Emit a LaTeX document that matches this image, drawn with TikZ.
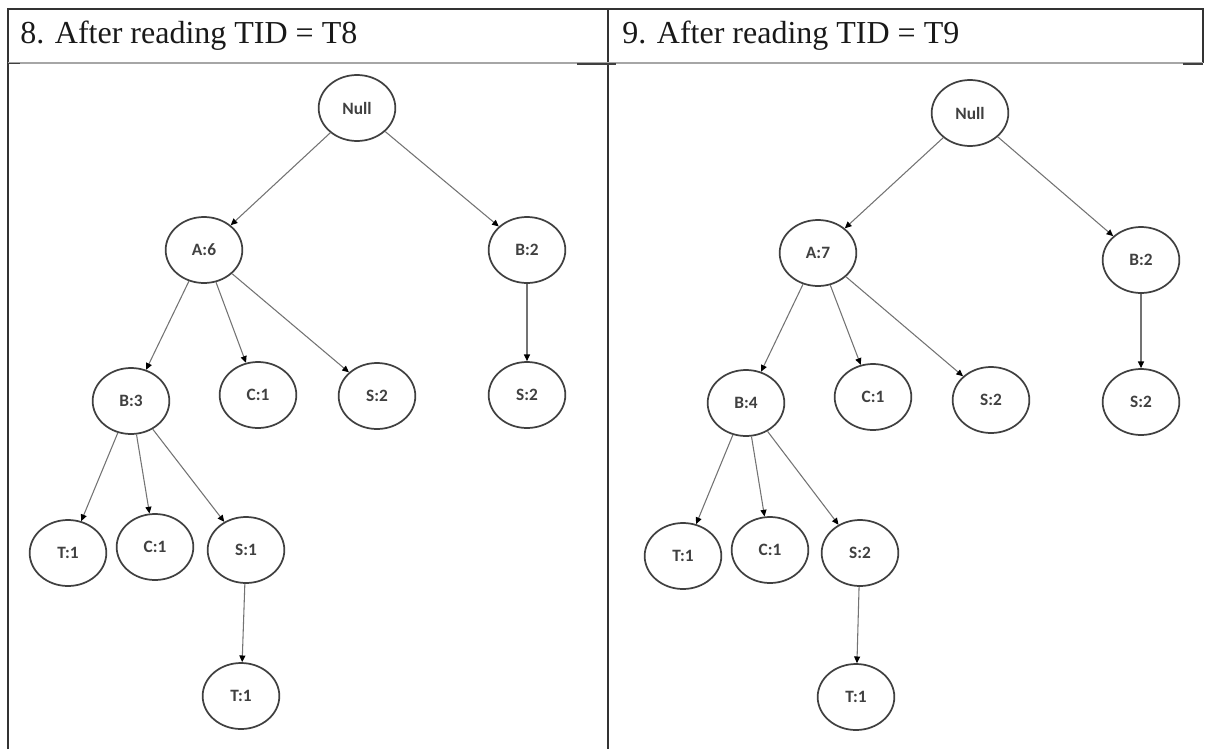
\documentclass[tikz,border=0pt]{standalone}
\usepackage{fontspec}
\setmainfont{Liberation Serif}
\newfontfamily\labelfont{Carlito}
\usetikzlibrary{shapes.geometric,arrows.meta}

\tikzset{
  px/.style={x=0.75pt,y=-0.75pt},
  rule/.style={draw=black!80,line width=1.1pt},
  thinrule/.style={draw=black!35,line width=0.8pt},
  stub/.style={draw=black!75,line width=1pt},
  heading/.style={anchor=base west,inner sep=0pt,font=\fontsize{24}{28}\selectfont,text=black!90},
  fpnode/.style={ellipse,draw=black!75,line width=1.3pt,minimum width=57.5pt,minimum height=49.5pt,
    inner sep=0pt,font=\labelfont\bfseries\fontsize{13}{15}\selectfont,text=black!75},
  link/.style={draw=black!55,line width=0.8pt,-{Triangle[length=5pt,width=4.5pt,color=black]}}
}

\begin{document}
\begin{tikzpicture}[px]
\useasboundingbox (0,0) rectangle (1205,749);

% table frame
\draw[rule] (8,749) -- (8,9) -- (1203,9) -- (1203,63);
\draw[rule] (608,9) -- (608,749);
% header separators (double rule, the upper one faint)
\draw[thinrule] (8,63) -- (1203,63);
\draw[stub] (8,63.5) -- (20,63.5);
\draw[stub] (577,64) -- (616,64);
\draw[stub] (1183,64) -- (1203,64);

% headings
\node[heading] (h8) at (20,44) {8. After reading TID = T8};
\node[heading] (h9) at (622,44) {9. After reading TID = T9};

% tree after T8
\node[fpnode] (n8)   at (357,108) {Null};
\node[fpnode] (a8)   at (204,250) {A:6};
\node[fpnode] (b8)   at (527,250) {B:2};
\node[fpnode] (ab8)  at (131,401) {B:3};
\node[fpnode] (ac8)  at (258,395) {C:1};
\node[fpnode] (as8)  at (377,396) {S:2};
\node[fpnode] (bs8)  at (527,395) {S:2};
\node[fpnode] (abt8) at (68,553)  {T:1};
\node[fpnode] (abc8) at (155,547) {C:1};
\node[fpnode] (abs8) at (246,550) {S:1};
\node[fpnode] (ast8) at (241,696) {T:1};

\draw[link] (n8) -- (a8);
\draw[link] (n8) -- (b8);
\draw[link] (a8) -- (ab8);
\draw[link] (a8) -- (ac8);
\draw[link] (a8) -- (as8);
\draw[link] (b8) -- (bs8);
\draw[link] (ab8) -- (abt8);
\draw[link] (ab8) -- (abc8);
\draw[link] (ab8) -- (abs8);
\draw[link] (abs8) -- (ast8);

% tree after T9
\node[fpnode] (n9)   at (970,113) {Null};
\node[fpnode] (a9)   at (818,253) {A:7};
\node[fpnode] (b9)   at (1141,260) {B:2};
\node[fpnode] (ab9)  at (746,403) {B:4};
\node[fpnode] (ac9)  at (873,397) {C:1};
\node[fpnode] (as9)  at (991,400) {S:2};
\node[fpnode] (bs9)  at (1141,402) {S:2};
\node[fpnode] (abt9) at (683,556) {T:1};
\node[fpnode] (abc9) at (770,550) {C:1};
\node[fpnode] (abs9) at (860,553) {S:2};
\node[fpnode] (ast9) at (856,697) {T:1};

\draw[link] (n9) -- (a9);
\draw[link] (n9) -- (b9);
\draw[link] (a9) -- (ab9);
\draw[link] (a9) -- (ac9);
\draw[link] (a9) -- (as9);
\draw[link] (b9) -- (bs9);
\draw[link] (ab9) -- (abt9);
\draw[link] (ab9) -- (abc9);
\draw[link] (ab9) -- (abs9);
\draw[link] (abs9) -- (ast9);
\end{tikzpicture}
\end{document}
